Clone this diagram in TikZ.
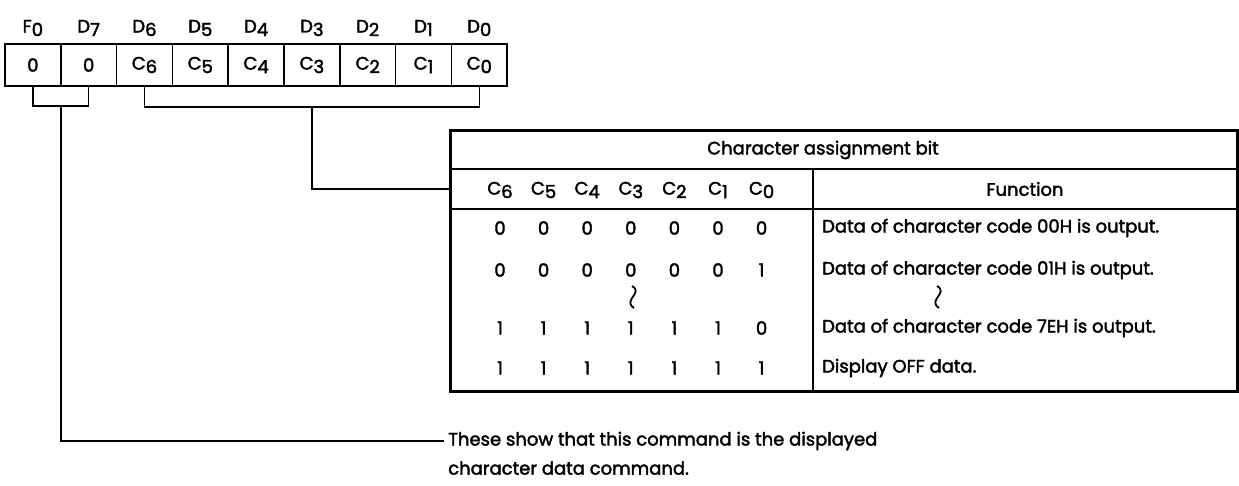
\documentclass[tikz,border=0pt]{standalone}
\usepackage{fontspec}
\setmainfont{Poppins}[FakeBold=2.2]
\newcommand{\lowidx}[2]{#1\raisebox{-3.5pt}{#2}}
\tikzstyle{cell} = [rectangle, minimum width=55.8pt, minimum height=42pt, inner sep=0pt, draw=black, line width=1.5pt]
\tikzstyle{bitname} = [inner sep=0pt]
\tikzstyle{bit} = [inner sep=0pt, node distance=43.6pt]
\tikzstyle{box} = [rectangle, draw=black, line width=1.3pt, inner sep=0pt]
\tikzstyle{fntext} = [inner sep=0pt, anchor=west]
\tikzstyle{wire} = [line width=1.4pt]
\tikzstyle{frame} = [line width=1.9pt]
\tikzstyle{squig} = [line width=1.8pt]

\begin{document}
\begin{tikzpicture}[x=1pt, y=-1pt, node distance=55.8pt, font=\fontsize{18}{21}\selectfont]
\useasboundingbox (0,0) rectangle (1239,486);

% register
\node (f0) [cell] at (32.9,65) {0};
\node (d7) [cell, right of=f0] {0};
\node (d6) [cell, right of=d7] {\lowidx{C}{6}};
\node (d5) [cell, right of=d6] {\lowidx{C}{5}};
\node (d4) [cell, right of=d5] {\lowidx{C}{4}};
\node (d3) [cell, right of=d4] {\lowidx{C}{3}};
\node (d2) [cell, right of=d3] {\lowidx{C}{2}};
\node (d1) [cell, right of=d2] {\lowidx{C}{1}};
\node (d0) [cell, right of=d1] {\lowidx{C}{0}};

\node (lf0) [bitname, above of=f0, node distance=37pt] {\lowidx{F}{0}};
\node (ld7) [bitname, above of=d7, node distance=37pt] {\lowidx{D}{7}};
\node (ld6) [bitname, above of=d6, node distance=37pt] {\lowidx{D}{6}};
\node (ld5) [bitname, above of=d5, node distance=37pt] {\lowidx{D}{5}};
\node (ld4) [bitname, above of=d4, node distance=37pt] {\lowidx{D}{4}};
\node (ld3) [bitname, above of=d3, node distance=37pt] {\lowidx{D}{3}};
\node (ld2) [bitname, above of=d2, node distance=37pt] {\lowidx{D}{2}};
\node (ld1) [bitname, above of=d1, node distance=37pt] {\lowidx{D}{1}};
\node (ld0) [bitname, above of=d0, node distance=37pt] {\lowidx{D}{0}};

% table
\node (title) [box, minimum width=786pt, minimum height=38pt] at (844,150) {};
\node (titletext) at (823,150) {Character assignment bit};
\node (bithdr) [box, minimum width=362pt, minimum height=40pt] at (632,189) {};
\node (fnhdr) [box, minimum width=424pt, minimum height=40pt] at (1025,189) {Function};
\node (bitbody) [box, minimum width=362pt, minimum height=182pt] at (632,300) {};
\node (fnbody) [box, minimum width=424pt, minimum height=182pt] at (1025,300) {};
\draw [frame] (title.north west) rectangle (fnbody.south east);

\node (h6) [bit] at (500,190) {\lowidx{C}{6}};
\node (h5) [bit, right of=h6] {\lowidx{C}{5}};
\node (h4) [bit, right of=h5] {\lowidx{C}{4}};
\node (h3) [bit, right of=h4] {\lowidx{C}{3}};
\node (h2) [bit, right of=h3] {\lowidx{C}{2}};
\node (h1) [bit, right of=h2] {\lowidx{C}{1}};
\node (h0) [bit, right of=h1] {\lowidx{C}{0}};

\node (r1c6) [bit] at (500,228) {0};
\node (r1c5) [bit, right of=r1c6] {0};
\node (r1c4) [bit, right of=r1c5] {0};
\node (r1c3) [bit, right of=r1c4] {0};
\node (r1c2) [bit, right of=r1c3] {0};
\node (r1c1) [bit, right of=r1c2] {0};
\node (r1c0) [bit, right of=r1c1] {0};

\node (r2c6) [bit] at (500,270) {0};
\node (r2c5) [bit, right of=r2c6] {0};
\node (r2c4) [bit, right of=r2c5] {0};
\node (r2c3) [bit, right of=r2c4] {0};
\node (r2c2) [bit, right of=r2c3] {0};
\node (r2c1) [bit, right of=r2c2] {0};
\node (r2c0) [bit, right of=r2c1] {1};

\node (r3c6) [bit] at (500,328) {1};
\node (r3c5) [bit, right of=r3c6] {1};
\node (r3c4) [bit, right of=r3c5] {1};
\node (r3c3) [bit, right of=r3c4] {1};
\node (r3c2) [bit, right of=r3c3] {1};
\node (r3c1) [bit, right of=r3c2] {1};
\node (r3c0) [bit, right of=r3c1] {0};

\node (r4c6) [bit] at (500,368) {1};
\node (r4c5) [bit, right of=r4c6] {1};
\node (r4c4) [bit, right of=r4c5] {1};
\node (r4c3) [bit, right of=r4c4] {1};
\node (r4c2) [bit, right of=r4c3] {1};
\node (r4c1) [bit, right of=r4c2] {1};
\node (r4c0) [bit, right of=r4c1] {1};

\node (fn1) [fntext] at (822,228) {Data of character code 00H is output.};
\node (fn2) [fntext] at (822,270) {Data of character code 01H is output.};
\node (fn3) [fntext] at (822,328) {Data of character code 7EH is output.};
\node (fn4) [fntext] at (822,368) {Display OFF data.};

% skipped rows
\draw [squig] (632,286) .. controls (644,293) and (622,300) .. (634,308);
\draw [squig] (937,286) .. controls (949,293) and (927,300) .. (939,308);

% note
\node (note) [fntext, inner xsep=4pt] at (444,441) {These show that this command is the displayed};
\node (note2) [fntext] at (448,468) {character data command.};

% brackets
\coordinate (b1) at (60.8,106);
\coordinate (b2) at (311.8,107);
\draw [wire] (f0.south) |- (b1) -| (d7.south);
\draw [wire] (b1) |- (note.west);
\draw [wire] (d6.south) |- (b2) -| (d0.south);
\draw [wire] (b2) |- (bithdr.west);

\end{tikzpicture}
\end{document}
